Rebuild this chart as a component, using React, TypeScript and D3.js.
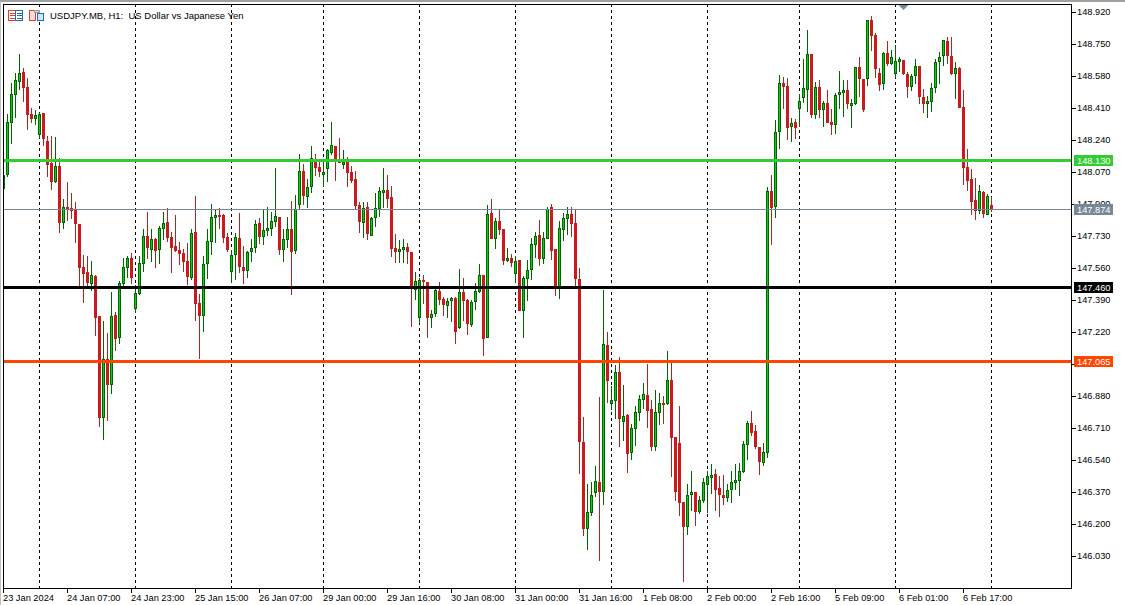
import React, { useEffect, useRef } from 'react';
import * as d3 from 'd3';

const opens = [
  147.985,148.059,148.335,148.484,148.553,148.606,148.527,148.384,148.357,148.271,
  148.389,148.240,148.123,148.022,148.107,147.804,147.889,147.883,147.873,147.799,
  147.571,147.544,147.480,147.523,147.310,146.768,147.082,146.943,147.315,147.193,
  147.480,147.565,147.618,147.347,147.427,147.587,147.735,147.661,147.719,147.661,
  147.772,147.809,147.730,147.682,147.661,147.645,147.603,147.512,147.757,147.379,
  147.310,147.587,147.703,147.836,147.847,147.847,147.730,147.544,147.634,147.724,
  147.571,147.549,147.650,147.671,147.804,147.730,147.762,147.772,147.809,147.836,
  147.661,147.714,147.772,147.655,147.900,148.080,147.942,147.996,148.128,148.102,
  148.070,148.091,148.176,148.213,148.139,148.123,148.128,148.075,148.038,147.900,
  147.804,147.889,147.735,147.831,147.878,147.969,147.980,147.942,147.671,147.655,
  147.661,147.677,147.650,147.448,147.299,147.501,147.491,147.299,147.320,147.443,
  147.400,147.363,147.390,147.406,147.246,147.437,147.395,147.262,147.385,147.437,
  147.528,147.193,147.857,147.719,147.815,147.772,147.603,147.618,147.534,147.608,
  147.337,147.507,147.555,147.687,147.740,147.613,147.719,147.889,147.666,147.464,
  147.767,147.825,147.852,147.804,147.507,146.640,146.178,146.263,146.370,146.428,
  146.375,147.156,146.843,146.859,147.013,146.747,146.784,146.582,146.709,146.795,
  146.864,146.890,146.816,146.614,146.795,146.848,146.843,146.970,146.667,146.635,
  146.322,146.189,146.359,146.375,146.268,146.327,146.412,146.450,146.471,146.396,
  146.359,146.343,146.386,146.423,146.434,146.481,146.625,146.741,146.699,146.614,
  146.529,146.582,147.974,147.889,148.288,148.548,148.532,148.314,148.340,148.410,
  148.468,148.511,148.702,148.378,148.527,148.405,148.442,148.340,148.324,148.484,
  148.500,148.511,148.436,148.436,148.633,148.569,148.569,148.883,148.803,148.601,
  148.543,148.707,148.649,148.596,148.660,148.670,148.596,148.527,148.585,148.638,
  148.474,148.442,148.447,148.521,148.660,148.691,148.771,148.691,148.596,148.628,
  148.421,148.102,148.038,147.926,147.868,147.969,147.847,147.900,
];

const highs = [
  148.059,148.384,148.548,148.601,148.702,148.628,148.575,148.415,148.405,148.389,
  148.389,148.266,148.266,148.261,148.150,147.931,148.022,147.964,147.915,147.799,
  147.634,147.629,147.603,147.528,147.310,147.283,147.220,147.437,147.331,147.496,
  147.618,147.629,147.645,147.475,147.629,147.772,147.862,147.772,147.724,147.788,
  147.862,147.883,147.757,147.847,147.703,147.666,147.698,147.772,147.948,147.427,
  147.629,147.772,147.905,147.878,147.883,147.852,147.751,147.661,147.751,147.857,
  147.682,147.655,147.719,147.820,147.831,147.873,147.889,147.862,148.096,147.836,
  147.772,147.836,147.921,147.953,148.171,148.118,148.038,148.213,148.171,148.128,
  148.128,148.197,148.340,148.213,148.256,148.192,148.155,148.107,148.080,147.915,
  147.915,147.915,147.836,147.964,147.996,148.096,148.059,148.001,147.746,147.714,
  147.719,147.698,147.650,147.544,147.512,147.528,147.491,147.342,147.459,147.491,
  147.411,147.406,147.411,147.411,147.560,147.512,147.400,147.395,147.485,147.587,
  147.528,147.900,147.931,147.831,147.873,147.772,147.671,147.639,147.629,147.608,
  147.523,147.608,147.724,147.757,147.820,147.757,147.889,147.905,147.666,147.815,
  147.857,147.889,147.889,147.878,147.565,146.773,146.418,146.428,146.513,146.880,
  147.448,147.225,146.938,147.050,147.092,146.943,146.789,146.736,146.832,146.890,
  146.954,147.055,146.864,146.917,146.901,146.885,147.124,147.060,146.667,146.832,
  146.322,146.418,146.487,146.375,146.354,146.450,146.487,146.524,146.497,146.460,
  146.465,146.418,146.487,146.524,146.529,146.646,146.752,146.805,146.731,146.614,
  146.635,147.996,148.059,148.351,148.590,148.580,148.575,148.362,148.357,148.490,
  148.676,148.830,148.702,148.553,148.564,148.452,148.511,148.410,148.495,148.612,
  148.564,148.564,148.463,148.633,148.686,148.569,148.883,148.904,148.814,148.628,
  148.713,148.771,148.723,148.750,148.686,148.670,148.606,148.596,148.676,148.638,
  148.516,148.479,148.548,148.676,148.713,148.776,148.792,148.792,148.660,148.633,
  148.511,148.197,148.091,148.043,148.006,147.974,147.958,147.942,
];

const lows = [
  147.980,148.049,148.224,148.362,148.511,148.447,148.298,148.335,148.324,148.250,
  148.213,148.049,147.980,148.017,147.751,147.772,147.815,147.825,147.698,147.464,
  147.379,147.464,147.443,147.204,146.720,146.651,146.752,146.896,147.124,147.161,
  147.464,147.512,147.480,147.326,147.421,147.544,147.613,147.597,147.565,147.587,
  147.714,147.703,147.539,147.650,147.581,147.544,147.475,147.501,147.283,147.082,
  147.225,147.507,147.634,147.698,147.772,147.698,147.650,147.485,147.501,147.539,
  147.480,147.512,147.597,147.645,147.693,147.687,147.735,147.735,147.783,147.634,
  147.597,147.671,147.421,147.639,147.873,147.900,147.883,147.964,148.054,148.049,
  147.996,148.022,148.165,148.027,148.123,148.091,147.996,148.017,147.878,147.751,
  147.724,147.714,147.735,147.783,147.836,147.883,147.883,147.623,147.592,147.592,
  147.592,147.587,147.252,147.395,147.273,147.374,147.193,147.246,147.305,147.368,
  147.310,147.299,147.278,147.161,147.241,147.283,147.209,147.252,147.342,147.432,
  147.097,147.193,147.719,147.666,147.740,147.581,147.597,147.571,147.485,147.337,
  147.193,147.390,147.501,147.618,147.576,147.587,147.719,147.608,147.416,147.400,
  147.709,147.740,147.730,147.459,146.471,146.141,146.067,146.247,146.348,146.009,
  146.306,146.848,146.811,146.762,146.614,146.646,146.476,146.545,146.619,146.752,
  146.816,146.715,146.593,146.593,146.731,146.736,146.837,146.455,146.327,146.247,
  145.897,146.147,146.274,146.194,146.258,146.316,146.263,146.364,146.274,146.242,
  146.306,146.322,146.316,146.386,146.354,146.476,146.545,146.672,146.603,146.465,
  146.513,146.556,147.687,147.831,148.197,148.410,148.245,148.234,148.250,148.314,
  148.442,148.394,148.362,148.357,148.362,148.314,148.335,148.271,148.277,148.410,
  148.367,148.410,148.309,148.431,148.474,148.394,148.532,148.718,148.575,148.505,
  148.511,148.638,148.644,148.575,148.606,148.590,148.468,148.505,148.543,148.436,
  148.389,148.362,148.394,148.495,148.543,148.638,148.649,148.590,148.463,148.415,
  148.006,147.974,147.847,147.820,147.852,147.831,147.847,147.862,
];

const closes = [
  148.059,148.340,148.490,148.564,148.601,148.521,148.378,148.357,148.378,148.384,
  148.250,148.112,148.022,148.107,147.804,147.889,147.878,147.868,147.799,147.565,
  147.534,147.485,147.528,147.299,146.768,147.082,146.943,147.310,147.188,147.485,
  147.571,147.618,147.512,147.432,147.592,147.735,147.671,147.719,147.655,147.778,
  147.804,147.724,147.671,147.655,147.639,147.597,147.517,147.751,147.374,147.310,
  147.587,147.709,147.836,147.847,147.841,147.724,147.661,147.634,147.730,147.571,
  147.549,147.650,147.671,147.799,147.730,147.767,147.778,147.815,147.841,147.661,
  147.719,147.772,147.650,147.878,148.080,147.948,147.996,148.150,148.096,148.075,
  148.075,148.192,148.218,148.144,148.123,148.128,148.070,148.027,147.894,147.809,
  147.883,147.746,147.831,147.883,147.974,147.980,147.931,147.666,147.650,147.666,
  147.677,147.650,147.459,147.496,147.501,147.491,147.299,147.320,147.448,147.395,
  147.368,147.390,147.406,147.225,147.437,147.390,147.268,147.385,147.443,147.528,
  147.188,147.852,147.719,147.815,147.767,147.603,147.618,147.592,147.603,147.337,
  147.512,147.555,147.693,147.735,147.613,147.724,147.878,147.655,147.464,147.778,
  147.831,147.852,147.799,147.507,146.640,146.178,146.268,146.359,146.434,146.375,
  147.161,146.965,146.864,147.013,146.762,146.779,146.577,146.715,146.800,146.869,
  146.896,146.805,146.614,146.800,146.848,146.843,146.970,146.662,146.375,146.316,
  146.189,146.359,146.375,146.268,146.332,146.428,146.460,146.465,146.386,146.359,
  146.343,146.386,146.428,146.439,146.487,146.630,146.741,146.688,146.614,146.534,
  146.588,147.974,147.883,148.288,148.548,148.527,148.309,148.335,148.309,148.452,
  148.521,148.702,148.378,148.527,148.405,148.442,148.335,148.324,148.484,148.500,
  148.511,148.436,148.442,148.633,148.569,148.405,148.883,148.798,148.622,148.537,
  148.707,148.649,148.686,148.665,148.676,148.596,148.527,148.585,148.638,148.474,
  148.436,148.452,148.521,148.660,148.686,148.776,148.691,148.596,148.628,148.415,
  148.096,148.027,147.915,147.868,147.974,147.852,147.948,147.874,
];

const priceTicks = [
  148.92, 148.75, 148.58, 148.41, 148.24, 148.07, 147.9, 147.73, 147.56,
  147.39, 147.22, 147.05, 146.88, 146.71, 146.54, 146.37, 146.2, 146.03,
];

const timeLabels = [
  '23 Jan 2024', '24 Jan 07:00', '24 Jan 23:00', '25 Jan 15:00', '26 Jan 07:00',
  '29 Jan 00:00', '29 Jan 16:00', '30 Jan 08:00', '31 Jan 00:00', '31 Jan 16:00',
  '1 Feb 08:00', '2 Feb 00:00', '2 Feb 16:00', '5 Feb 09:00', '6 Feb 01:00', '6 Feb 17:00',
];

// bars that get a dashed day separator
const separatorBars = [9, 33, 57, 80, 104, 128, 152, 176, 199, 223, 247];

const levelValues = [148.135, 147.46, 147.065];
const levelLabels = ['148.130', '147.460', '147.065'];
const levelColors = ['#32cd32', '#000000', '#ff4500'];

const lastPrice = 147.874;

const FONT = '"Liberation Sans", Arial, sans-serif';

const App: React.FC = () => {
  const ref = useRef<SVGSVGElement | null>(null);

  useEffect(() => {
    if (!ref.current) return;
    const width = 1125;
    const height = 605;
    const frame = { left: 3, top: 4, right: 1071, bottom: 588 };

    const svg = d3.select(ref.current);
    svg.selectAll('*').remove();
    svg.attr('width', width).attr('height', height)
      .attr('style', 'position:absolute;left:0;top:0;background:#fff');

    const x = d3.scaleLinear().domain([0, opens.length - 1]).range([3, 991]);
    const y = d3.scaleLinear().domain([146.03, 148.92]).range([557.0, 13]);

    // window edge
    svg.append('rect').attr('width', width).attr('height', 2).attr('fill', '#a0a0a0');
    svg.append('rect').attr('y', 2).attr('width', 1).attr('height', height).attr('fill', '#c0c0c0');

    svg.append('clipPath').attr('id', 'plot').append('rect')
      .attr('x', frame.left).attr('y', frame.top)
      .attr('width', frame.right - frame.left).attr('height', frame.bottom - frame.top);

    const plot = svg.append('g').attr('clip-path', 'url(#plot)').attr('shape-rendering', 'crispEdges');

    // Day separators
    plot.selectAll('.sep').data(separatorBars).enter().append('line')
      .attr('x1', d => x(d) + 0.5).attr('x2', d => x(d) + 0.5)
      .attr('y1', frame.top).attr('y2', frame.bottom)
      .attr('stroke', '#000').attr('stroke-dasharray', '3,3');

    // Candles
    const bars = d3.range(opens.length);
    const isUp = (i: number) => closes[i] >= opens[i];

    plot.selectAll('.wick').data(bars).enter().append('rect')
      .attr('x', i => x(i)).attr('width', 1)
      .attr('y', i => Math.round(y(highs[i])))
      .attr('height', i => Math.max(1, Math.round(y(lows[i])) - Math.round(y(highs[i]))))
      .attr('fill', i => (isUp(i) ? '#006400' : '#b22222'));

    const bodyTop = (i: number) => Math.round(y(Math.max(opens[i], closes[i])));
    const bodyHeight = (i: number) => Math.max(isUp(i) ? 3 : 2, Math.round(y(Math.min(opens[i], closes[i]))) - bodyTop(i));

    plot.selectAll('.body').data(bars).enter().append('rect')
      .attr('x', i => x(i) - 1).attr('width', 3)
      .attr('y', bodyTop)
      .attr('height', bodyHeight)
      .attr('fill', i => (isUp(i) ? '#006400' : '#cc1a1a'));

    plot.selectAll('.fill').data(bars.filter(isUp)).enter().append('rect')
      .attr('x', i => x(i)).attr('width', 1)
      .attr('y', i => bodyTop(i) + 1)
      .attr('height', i => bodyHeight(i) - 2)
      .attr('fill', '#00d800');

    // Last price line
    plot.append('rect')
      .attr('x', frame.left).attr('width', frame.right - frame.left)
      .attr('y', Math.floor(y(lastPrice))).attr('height', 1)
      .attr('fill', '#778899');

    // Horizontal levels
    plot.selectAll('.level').data(levelValues).enter().append('rect')
      .attr('x', frame.left).attr('width', frame.right - frame.left)
      .attr('y', d => Math.round(y(d)) - 2).attr('height', 3)
      .attr('fill', (d, i) => levelColors[i]);

    // Chart shift marker
    svg.append('path').attr('d', 'M898.5,5 L908.5,5 L903.5,10 Z').attr('fill', '#778899');

    // Frame
    svg.append('rect')
      .attr('x', frame.left + 0.5).attr('y', frame.top + 0.5)
      .attr('width', frame.right - frame.left).attr('height', frame.bottom - frame.top)
      .attr('fill', 'none').attr('stroke', '#000').attr('shape-rendering', 'crispEdges');

    // Price axis
    const yAxis = d3.axisRight(y).tickValues(priceTicks).tickFormat(d3.format('.3f') as any).tickSize(4).tickPadding(1);
    const yg = svg.append('g').attr('transform', `translate(${frame.right + 1},-1)`).call(yAxis as any);
    yg.select('.domain').remove();
    yg.selectAll('line').attr('stroke', '#000').attr('shape-rendering', 'crispEdges');
    yg.selectAll('text').attr('fill', '#000').attr('font-family', FONT).attr('font-size', 9.25);

    // Time axis
    const xAxis = d3.axisBottom(x)
      .tickValues(timeLabels.map((_, k) => k * 16))
      .tickFormat(((d: number) => timeLabels[d / 16]) as any)
      .tickSize(4).tickPadding(1);
    const xg = svg.append('g').attr('transform', `translate(0,${frame.bottom + 1})`).call(xAxis as any);
    xg.select('.domain').remove();
    xg.selectAll('line').attr('stroke', '#000').attr('shape-rendering', 'crispEdges');
    xg.selectAll('text').attr('fill', '#000').attr('font-family', FONT).attr('font-size', 9.25)
      .attr('text-anchor', 'start').attr('dx', -0.5);

    // Price labels on the axis
    const tagData = [
      ...levelValues.map((v, i) => ({ v, text: levelLabels[i], color: levelColors[i] })),
      { v: lastPrice, text: d3.format('.3f')(lastPrice), color: '#778899' },
    ];
    const tags = svg.selectAll('.tag').data(tagData).enter().append('g')
      .attr('transform', d => `translate(1074,${Math.round(y(d.v)) - 6})`);
    tags.append('rect').attr('width', 39).attr('height', 11).attr('fill', d => d.color);
    tags.append('text').attr('x', 3).attr('y', 9).attr('fill', '#fff')
      .attr('font-family', FONT).attr('font-size', 9.25).text(d => d.text);

    // Title
    svg.append('text').attr('x', 50).attr('y', 19)
      .attr('font-family', FONT).attr('font-size', 9.5).attr('fill', '#000')
      .attr('xml:space', 'preserve').style('white-space', 'pre')
      .text('USDJPY.MB, H1:  US Dollar vs Japanese Yen');

    // Toolbar icons
    const icons = svg.append('g').attr('shape-rendering', 'crispEdges');
    icons.append('rect').attr('x', 8.5).attr('y', 10.5).attr('width', 7).attr('height', 10).attr('fill', '#fff').attr('stroke', '#e8392f');
    icons.append('rect').attr('x', 15.5).attr('y', 10.5).attr('width', 7).attr('height', 10).attr('fill', '#fff').attr('stroke', '#1a6fb5');
    [13, 15.5, 18].forEach(py => {
      icons.append('line').attr('x1', 10).attr('x2', 15).attr('y1', py).attr('y2', py).attr('stroke', '#e8392f');
      icons.append('line').attr('x1', 17).attr('x2', 22).attr('y1', py).attr('y2', py).attr('stroke', '#1a6fb5');
    });
    icons.append('path').attr('d', 'M29.5,10.5 H33.5 L35.5,13 V20.5 H29.5 Z').attr('fill', '#fde0dc').attr('stroke', '#e8392f');
    icons.append('path').attr('d', 'M37.5,13.5 H43.5 V20.5 H37.5 Z').attr('fill', '#cfe6f7').attr('stroke', '#1a6fb5');
    icons.append('rect').attr('x', 34.5).attr('y', 10.5).attr('width', 5).attr('height', 2).attr('fill', '#ddd').attr('stroke', '#999');
  }, []);

  return <svg ref={ref}></svg>;
};

export default App;
